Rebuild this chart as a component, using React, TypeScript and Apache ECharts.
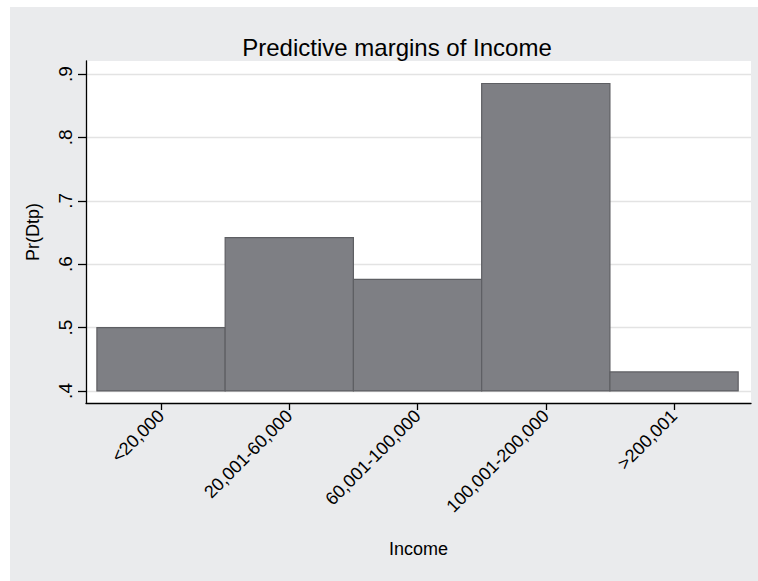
import React, { useEffect, useRef } from "react";
import * as echarts from "echarts";

const categories = ["<20,000", "20,001-60,000", "60,001-100,000", "100,001-200,000", ">200,001"];
const xPositions = [1, 2, 3, 4, 5];
const margins = [0.5, 0.642, 0.576, 0.885, 0.43];
const yTicks = [0.4, 0.5, 0.6, 0.7, 0.8, 0.9];
const barBase = 0.4;

const FONT = "'Liberation Sans', Arial, Helvetica, sans-serif";

export default function App() {
  const ref = useRef<HTMLDivElement>(null);

  useEffect(() => {
    if (!ref.current) return;
    const chart = echarts.init(ref.current, null, { renderer: "svg" });
    const data = xPositions.map((x, i) => [x, margins[i]]);
    chart.setOption({
      animation: false,
      backgroundColor: "#ffffff",
      textStyle: { fontFamily: FONT },
      title: {
        text: "Predictive margins of Income",
        left: 392,
        top: 30,
        textAlign: "center",
        textStyle: { fontFamily: FONT, fontSize: 24, fontWeight: "normal", color: "#000000" },
      },
      graphic: [
        {
          type: "rect",
          z: -100,
          silent: true,
          shape: { x: 10, y: 7, width: 748, height: 574 },
          style: { fill: "#eaebed" },
        },
      ],
      grid: {
        left: 86,
        right: 7,
        top: 61,
        bottom: 178,
        show: true,
        backgroundColor: "#ffffff",
        borderWidth: 0,
        containLabel: false,
      },
      xAxis: {
        type: "value",
        min: 0.415,
        max: 5.6,
        name: "Income",
        nameLocation: "middle",
        nameGap: 137,
        nameTextStyle: { fontFamily: FONT, fontSize: 18, color: "#000000" },
        axisLine: { show: true, onZero: false, lineStyle: { color: "#000000", width: 1.3 } },
        axisTick: { show: true, length: 7, customValues: xPositions, lineStyle: { color: "#000000", width: 1.3 } },
        axisLabel: {
          customValues: xPositions,
          rotate: 45,
          margin: 10,
          fontFamily: FONT,
          fontSize: 18,
          color: "#000000",
          formatter: (v: number) => categories[Math.round(v) - 1] ?? "",
        },
        splitLine: { show: false },
      },
      yAxis: {
        type: "value",
        min: 0.381,
        max: 0.9205,
        name: "Pr(Dtp)",
        nameLocation: "middle",
        nameGap: 44,
        nameRotate: 90,
        nameTextStyle: { fontFamily: FONT, fontSize: 18, color: "#000000" },
        axisLine: { show: true, onZero: false, lineStyle: { color: "#000000", width: 1.3 } },
        axisTick: { show: true, length: 8, customValues: yTicks, lineStyle: { color: "#000000", width: 1.3 } },
        axisLabel: {
          customValues: yTicks,
          rotate: 90,
          margin: 11,
          fontFamily: FONT,
          fontSize: 19,
          color: "#000000",
          formatter: (v: number) => v.toFixed(1).replace(/^0/, ""),
        },
        splitLine: { show: true, lineStyle: { color: "#e3e3e3", width: 1.3 } },
      },
      series: [
        {
          type: "custom",
          data,
          encode: { x: 0, y: 1 },
          renderItem: (params: any, api: any) => {
            const x = api.value(0);
            const v = api.value(1);
            const p1 = api.coord([x - 0.5, v]);
            const p2 = api.coord([x + 0.5, barBase]);
            return {
              type: "rect",
              shape: { x: p1[0], y: p1[1], width: p2[0] - p1[0], height: p2[1] - p1[1] },
              style: { fill: "#7e7f84", stroke: "#5e5f63", lineWidth: 1.2 },
            };
          },
        },
      ],
    });
    return () => chart.dispose();
  }, []);

  return (
    <div
      ref={ref}
      style={{ position: "fixed", left: 0, top: 0, width: 758, height: 581 }}
    />
  );
}
